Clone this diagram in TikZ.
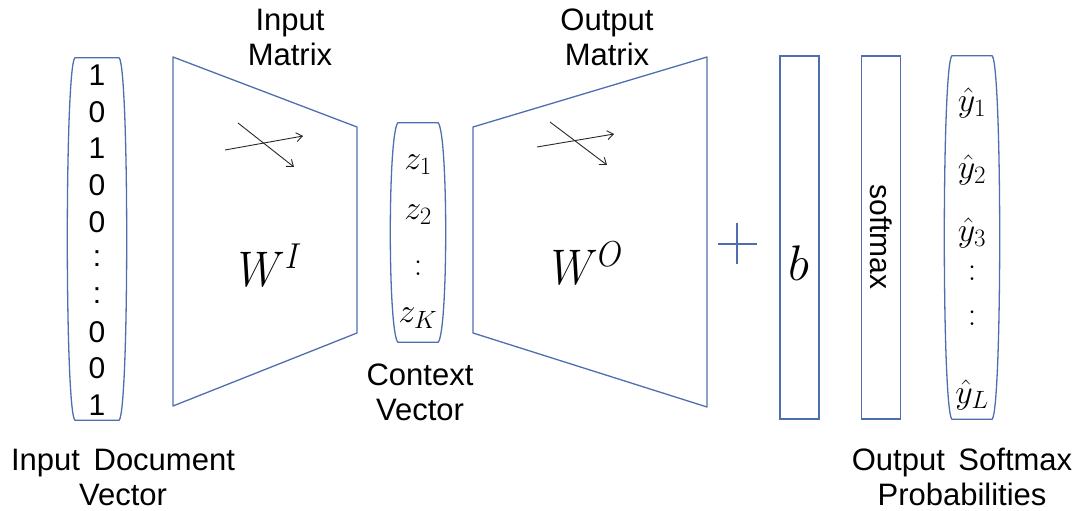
\documentclass[tikz,border=0pt]{standalone}
\usepackage{fix-cm}
\usepackage[no-math]{fontspec}
\setmainfont{Liberation Sans}
\usetikzlibrary{arrows.meta,calc}
\newcommand\mysub[1]{_{\mbox{\fontsize{25}{25}\selectfont$#1$}}}
\newcommand\mysup[1]{^{\mbox{\fontsize{36}{36}\selectfont$#1$}}}
\definecolor{edge}{RGB}{80,110,175}
\definecolor{ink}{RGB}{40,40,40}
\begin{document}
\begin{tikzpicture}[x=1pt,y=-1pt,
  shapeline/.style={draw=edge,line width=1.3pt,line join=round},
  frame/.style={minimum width=#1,inner sep=0pt,draw=none},
  barbox/.style={draw=edge,line width=1.3pt,minimum width=39pt,minimum height=363pt,inner sep=0pt},
  lbl/.style={font=\fontsize{31}{35}\selectfont,align=center,inner sep=0pt},
  ent/.style={font=\fontsize{30}{36}\selectfont,inner sep=0pt},
  ment/.style={font=\fontsize{34}{40}\selectfont,inner sep=0pt},
  big/.style={font=\fontsize{50}{56}\selectfont,inner sep=0pt},
  wsym/.style={big,xscale=0.88,transform shape},
  cross/.style={draw=ink,line width=0.9pt,-{Straight Barb[length=6pt,width=9pt]}}
]
\useasboundingbox (0,0) rectangle (1085,511);

% ---------- vector frames ----------
\node[frame=54pt,minimum height=362pt] (invec) at (97,239) {};
\node[frame=50pt,minimum height=219pt] (ctx) at (418,232.5) {};
\node[frame=50pt,minimum height=363pt] (outvec) at (972,237.5) {};

\foreach \n in {invec,ctx,outvec}{
  \draw[shapeline]
    ($(\n.north west)+(5,0)$) -- ($(\n.north east)+(-5,0)$)
    .. controls ($(\n.north east)+(5,12)$) and ($(\n.south east)+(5,-12)$) .. ($(\n.south east)+(-5,0)$)
    -- ($(\n.south west)+(5,0)$)
    .. controls ($(\n.south west)+(-5,-12)$) and ($(\n.north west)+(-5,12)$) .. cycle;
}

% ---------- input vector entries ----------
\foreach \t [count=\i] in {1,0,1,0,0,:,:,0,0,1}{
  \node[ent] (iv\i) at (97,{75+(\i-1)*36.7}) {\t};
}

% ---------- trapezoids ----------
\coordinate (a1) at (173,57);
\coordinate (a2) at (357,127);
\coordinate (a3) at (357,333);
\coordinate (a4) at (173,406);
\draw[shapeline] (a1) -- (a2) -- (a3) -- (a4) -- cycle;

\coordinate (b1) at (473,127);
\coordinate (b2) at (707,57);
\coordinate (b3) at (707,407);
\coordinate (b4) at (473,333);
\draw[shapeline] (b1) -- (b2) -- (b3) -- (b4) -- cycle;

% crossing arrows
\coordinate (c1s) at (225,150); \coordinate (c1e) at (303,136);
\coordinate (c2s) at (238,123); \coordinate (c2e) at (294,167);
\draw[cross] (c1s) -- (c1e);
\draw[cross] (c2s) -- (c2e);
\coordinate (d1s) at (537,147); \coordinate (d1e) at (614,134);
\coordinate (d2s) at (550,122); \coordinate (d2e) at (607,165);
\draw[cross] (d1s) -- (d1e);
\draw[cross] (d2s) -- (d2e);

\node[wsym] (WI) at (270,265) {$W\mysup{I}$};
\node[wsym] (WO) at (587,263) {$W\mysup{O}$};

% ---------- context vector entries ----------
\node[ment] (z1) at (418,165) {$z\mysub{1}$};
\node[ment] (z2) at (418,215) {$z\mysub{2}$};
\node[ment] (zd) at (418,268) {$:$};
\node[ment] (zK) at (418,318) {$z\mysub{K}$};

% ---------- plus ----------
\coordinate (plus) at (737,244);
\draw[draw=edge,line width=1.3pt] ($(plus)+(-19,0)$) -- ($(plus)+(20,0)$);
\draw[draw=edge,line width=1.3pt] ($(plus)+(0,-21)$) -- ($(plus)+(0,20)$);

% ---------- bias and softmax ----------
\node[barbox] (bbox) at (799.5,237.5) {};
\node[big] (bsym) at (799,263) {$b$};
\node[barbox] (smbox) at (881,237.5) {};
\node[ent,rotate=-90] (smtxt) at (881,237) {softmax};

% ---------- output entries ----------
\node[ment] (y1) at (972,103) {$\hat{y}\mysub{1}$};
\node[ment] (y2) at (972,170) {$\hat{y}\mysub{2}$};
\node[ment] (y3) at (972,233) {$\hat{y}\mysub{3}$};
\node[ment] (yd1) at (972,273) {$:$};
\node[ment] (yd2) at (972,318) {$:$};
\node[ment] (yL) at (972,395) {$\hat{y}\mysub{L}$};

% ---------- labels ----------
\node[lbl] (lim) at (290,37) {Input\\Matrix};
\node[lbl] (lom) at (607,37) {Output\\Matrix};
\node[lbl] (lcv) at (420,392) {Context\\Vector};
\node[lbl] (lid) at (123,477) {Input\hspace{5pt} Document\\Vector};
\node[lbl] (los) at (962,477) {Output\hspace{5pt} Softmax\\Probabilities};
\end{tikzpicture}
\end{document}
